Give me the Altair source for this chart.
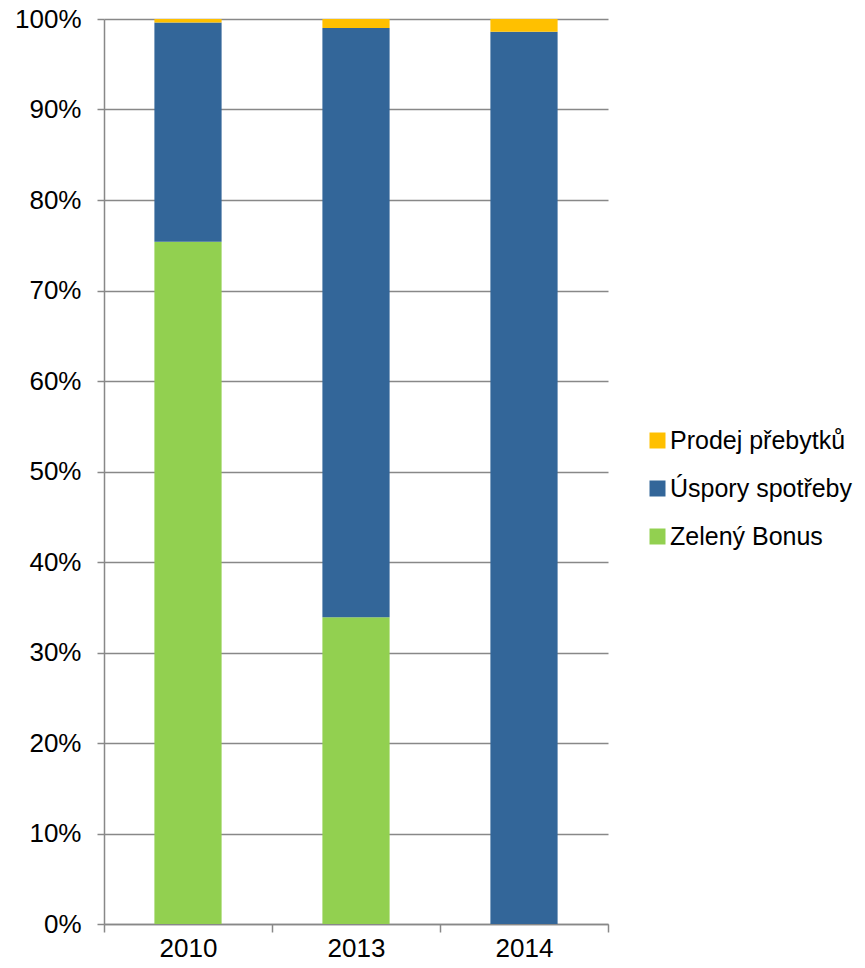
import altair as alt
import pandas as pd

years = ["2010", "2013", "2014"]
series = ["Prodej přebytků", "Úspory spotřeby", "Zelený Bonus"]
colors = ["#FFC000", "#336699", "#92D050"]
zeleny = [0.754, 0.339, 0.0]
uspory = [0.242, 0.651, 0.986]
prodej = [0.004, 0.010, 0.014]

rows = []
for i, y in enumerate(years):
    rows.append({"year": y, "series": series[2], "value": zeleny[i], "ord": 0})
    rows.append({"year": y, "series": series[1], "value": uspory[i], "ord": 1})
    rows.append({"year": y, "series": series[0], "value": prodej[i], "ord": 2})
df = pd.DataFrame(rows)

font = "Liberation Sans"
fs = 26

chart = alt.Chart(df).mark_bar(width={"band": 0.4}).encode(
    x=alt.X("year:N", sort=years, title=None,
            scale=alt.Scale(paddingInner=0, paddingOuter=0),
            axis=alt.Axis(labelAngle=0, tickBand="extent", tickSize=8,
                          domainColor="#888888", tickColor="#888888",
                          labelFontSize=fs, labelFont=font, labelColor="#000000",
                          labelPadding=3, grid=False, domainWidth=1.5, tickWidth=1.5)),
    y=alt.Y("value:Q", stack="zero", title=None,
            scale=alt.Scale(domain=[0, 1], nice=False),
            axis=alt.Axis(values=[i / 10 for i in range(11)], format=".0%",
                          tickSize=7, tickColor="#888888", domainColor="#888888",
                          gridColor="#888888", gridWidth=1.5, domainWidth=1.5, tickWidth=1.5,
                          labelFontSize=fs, labelFont=font, labelColor="#000000",
                          labelPadding=16)),
    color=alt.Color("series:N", scale=alt.Scale(domain=series, range=colors),
                    legend=alt.Legend(title=None, orient="none", legendX=541, legendY=409,
                                      symbolType="square", symbolSize=256,
                                      symbolStrokeWidth=0, labelFontSize=25,
                                      labelFont=font, labelColor="#000000",
                                      labelLimit=400,
                                      rowPadding=22, labelOffset=0, padding=0)),
    order=alt.Order("ord:Q", sort="ascending"),
).properties(
    width=504, height=905,
    autosize=alt.AutoSizeParams(type="none"),
    padding={"left": 96, "top": 11, "right": 249, "bottom": 44},
).configure_view(stroke=None)

chart.save("out.html", embed_options={"renderer": "svg", "actions": False})
